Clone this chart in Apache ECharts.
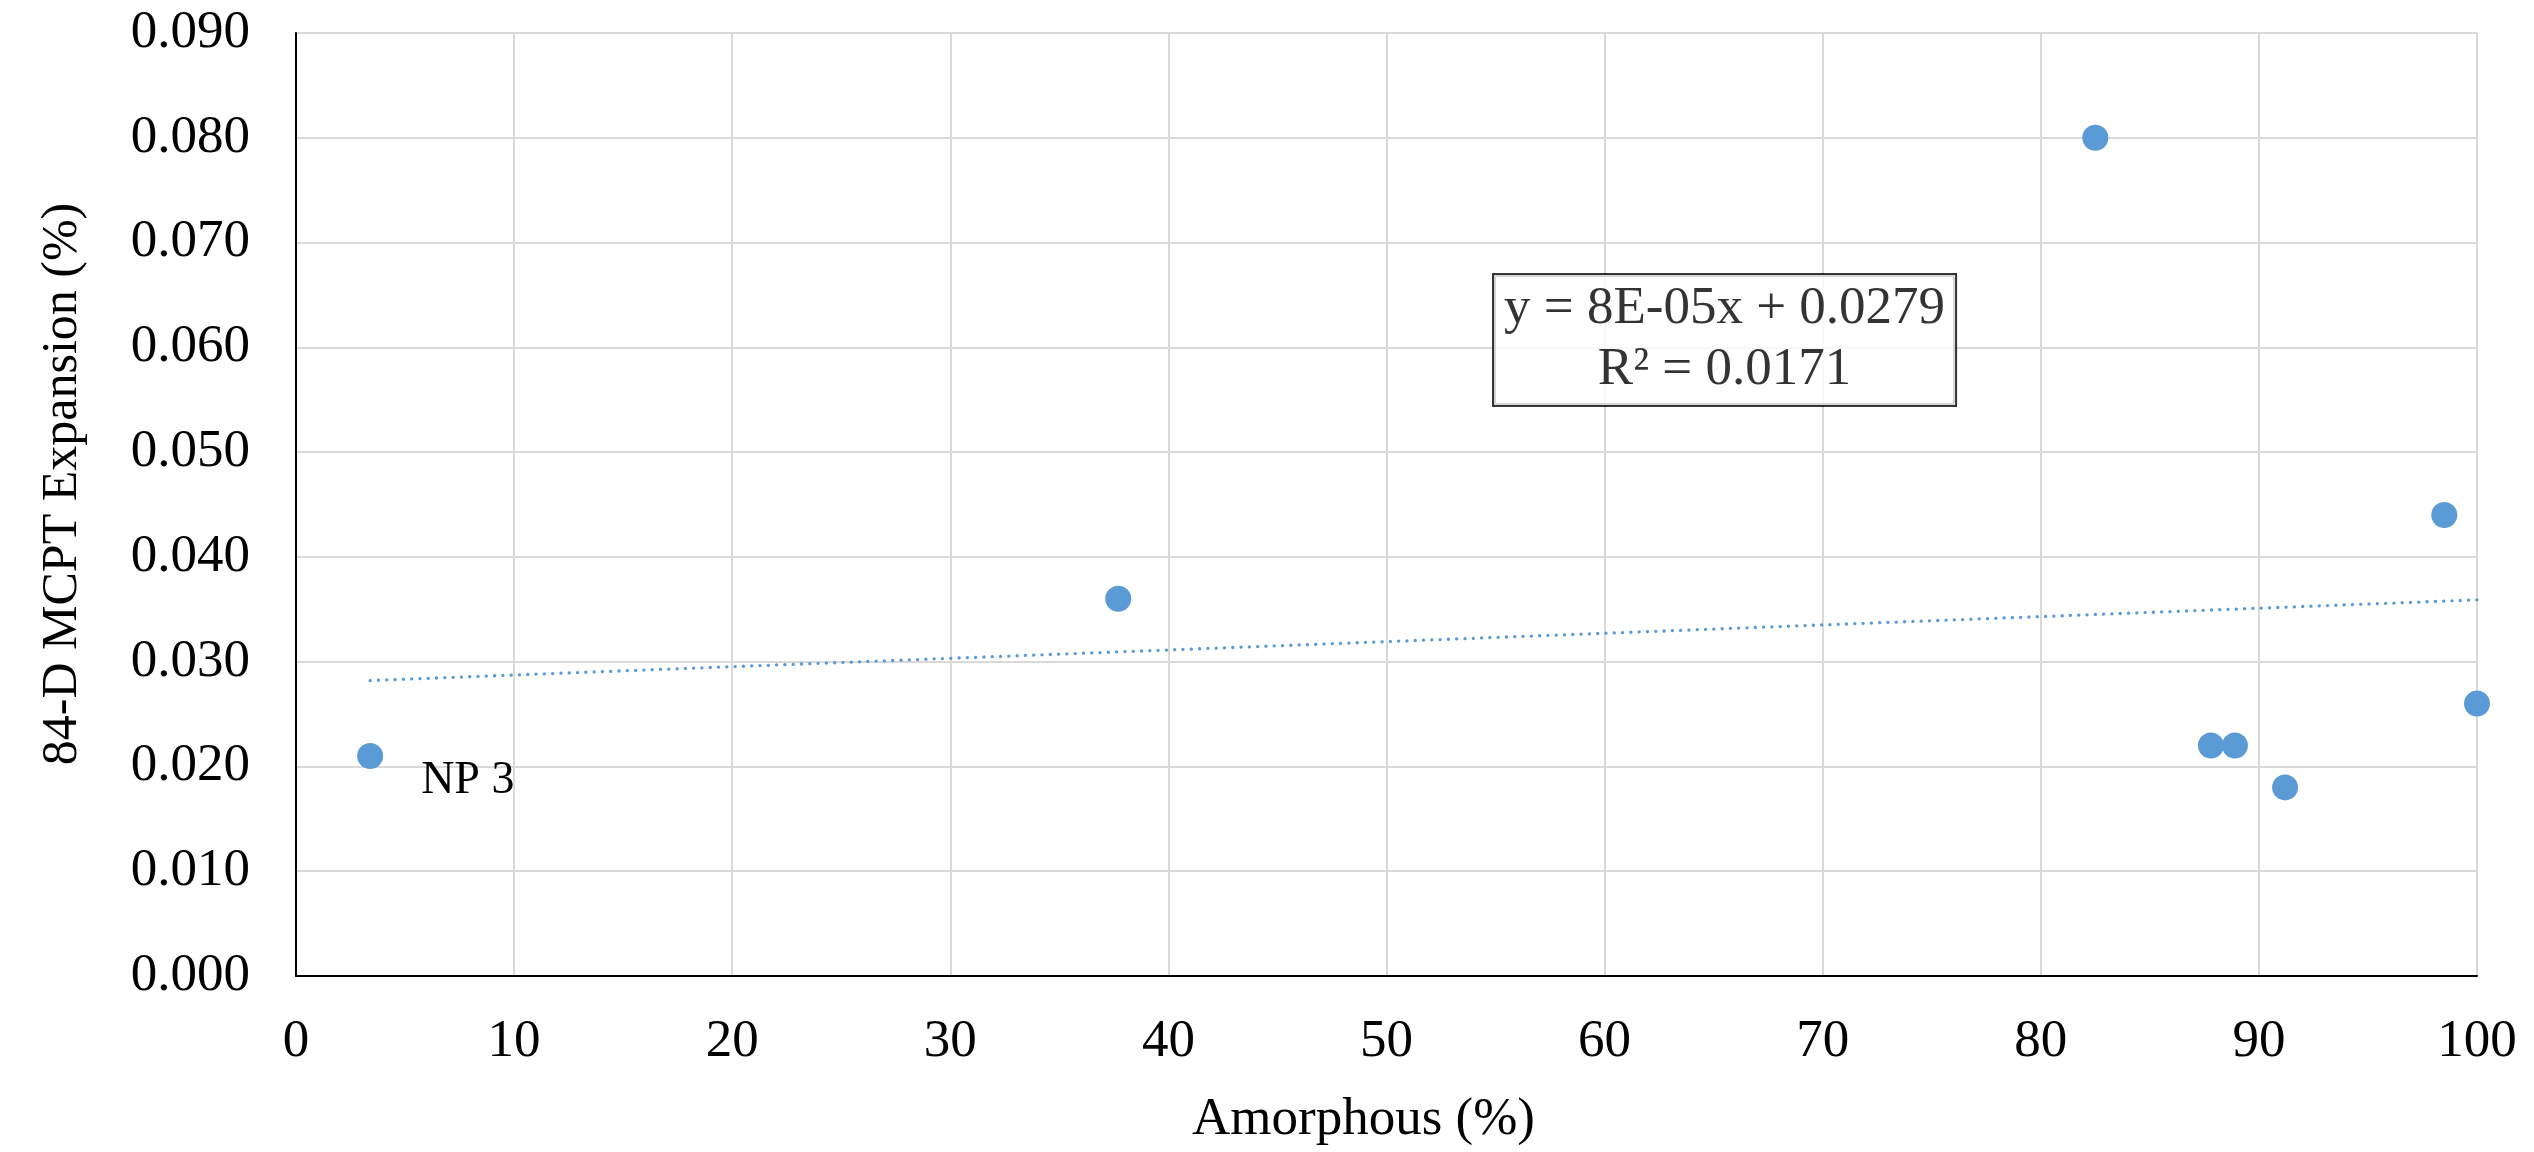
<!DOCTYPE html>
<html>
<head>
<meta charset="utf-8">
<script src="https://cdn.jsdelivr.net/npm/echarts@6/dist/echarts.min.js"></script>
<style>
html,body{margin:0;padding:0;background:#fff;}
#chart{width:2534px;height:1152px;}
</style>
</head>
<body>
<div id="chart"></div>
<script>
// ---- data ----
const amorphous = [3.4, 37.7, 82.5, 87.8, 88.9, 91.2, 98.5, 100];
const expansion = [0.021, 0.036, 0.080, 0.022, 0.022, 0.018, 0.044, 0.026];
const pointLabels = ['NP 3', '', '', '', '', '', '', ''];
const trendX = [3.4, 100];
const trendY = [0.0282, 0.0359];
const equationLines = ['y = 8E-05x + 0.0279', 'R\u00b2 = 0.0171'];
const equationAnchor = [65.5, 0.0607];
const xTitle = 'Amorphous (%)';
const yTitle = '84-D MCPT Expansion (%)';

const FONT = "'Liberation Serif', 'Times New Roman', serif";
const chart = echarts.init(document.getElementById('chart'), null, {renderer: 'canvas'});

const scatterData = amorphous.map((x, i) => {
  const item = {value: [x, expansion[i]]};
  if (pointLabels[i]) {
    item.label = {
      show: true, formatter: pointLabels[i], position: 'right',
      distance: 38, offset: [0, 25],
      fontFamily: FONT, fontSize: 46, color: '#000'
    };
  }
  return item;
});

const option = {
  backgroundColor: '#ffffff',
  animation: false,
  grid: {left: 296, right: 57, top: 33, bottom: 176, containLabel: false},
  xAxis: {
    type: 'value', min: 0, max: 100, interval: 10,
    axisLine: {show: true, onZero: false, lineStyle: {color: '#000', width: 2}},
    axisTick: {show: false},
    axisLabel: {fontFamily: FONT, fontSize: 53, color: '#000', margin: 40},
    splitLine: {show: true, lineStyle: {color: '#d9d9d9', width: 2}}
  },
  yAxis: {
    type: 'value', min: 0, max: 0.09, interval: 0.01,
    axisLine: {show: true, onZero: false, lineStyle: {color: '#000', width: 2}},
    axisTick: {show: false},
    axisLabel: {fontFamily: FONT, fontSize: 53, color: '#000', margin: 46,
      formatter: v => v.toFixed(3)},
    splitLine: {show: true, lineStyle: {color: '#d9d9d9', width: 2}}
  },
  graphic: [
    {type: 'text', left: 1192, top: 1094,
      style: {text: xTitle, font: '53px ' + FONT, fill: '#000'}},
    {type: 'text', x: 38, y: 484, rotation: Math.PI / 2,
      style: {text: yTitle, font: '50px ' + FONT, fill: '#000', align: 'center', verticalAlign: 'top'}}
  ],
  series: [
    {
      type: 'line', data: trendX.map((x, i) => [x, trendY[i]]),
      symbol: 'none', silent: true, z: 2,
      lineStyle: {color: '#5b9bd5', width: 3.3, type: [0.1, 8.2], cap: 'round'}
    },
    {
      type: 'scatter', data: scatterData, symbol: 'circle', symbolSize: 26, z: 3,
      itemStyle: {color: '#5b9bd5', opacity: 1}
    },
    {
      type: 'scatter', data: [equationAnchor], symbolSize: 0, z: 4, silent: true,
      label: {
        show: true, position: 'inside', formatter: equationLines.join('\n'),
        fontFamily: FONT, fontSize: 53, lineHeight: 61, color: '#000', align: 'center',
        backgroundColor: '#fff', borderColor: '#000', borderWidth: 2, padding: [4, 10, 4, 10]
      }
    }
  ]
};
chart.setOption(option);
</script>
</body>
</html>
